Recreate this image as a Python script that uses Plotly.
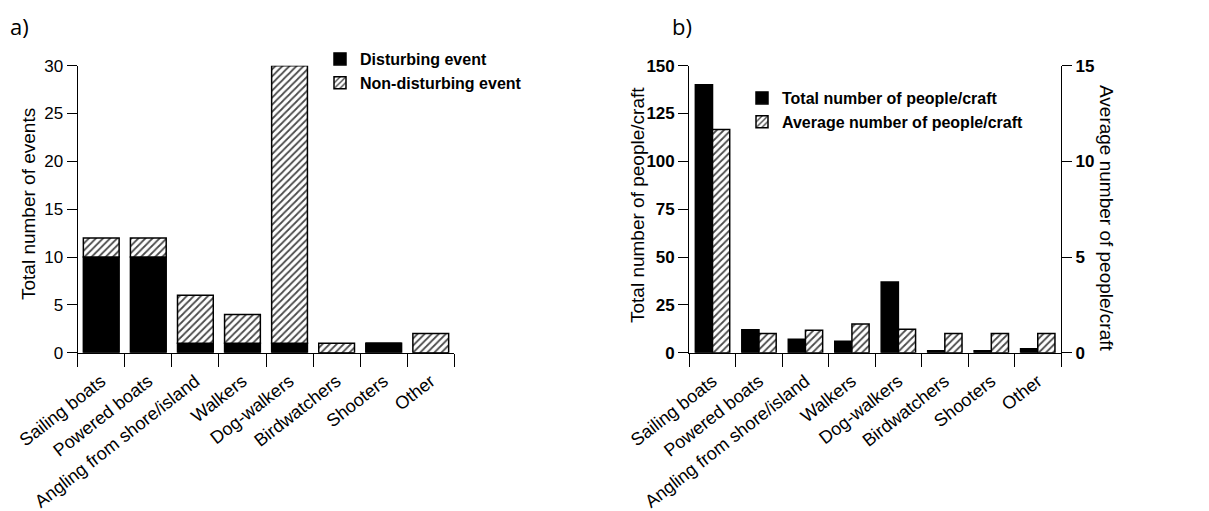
import plotly.graph_objects as go

# Activity categories shared by both panels
categories = ["Sailing boats", "Powered boats", "Angling from shore/island", "Walkers",
              "Dog-walkers", "Birdwatchers", "Shooters", "Other"]

# Panel a) events per activity
disturbing = [10, 10, 1, 1, 1, 0, 1, 0]
non_disturbing = [2, 2, 5, 3, 29, 1, 0, 2]

# Panel b) people/craft per activity
total_people = [140, 12, 7, 6, 37, 1, 1, 2]
avg_people = [11.67, 1.0, 1.17, 1.5, 1.23, 1.0, 1.0, 1.0]

W, H = 1209, 511
FONT = "Liberation Sans, Arial, sans-serif"


def px_x(p):
    return p / W


def px_y(p):
    return 1 - p / H


hatch = dict(shape="/", fgcolor="#4a4a4a", bgcolor="white", size=5, solidity=0.35)
edge = dict(color="black", width=1.5)

fig = go.Figure()

# a) stacked bars (hatched segment sits on top of the black one)
fig.add_bar(x=categories, y=disturbing, xaxis="x", yaxis="y", name="Disturbing event",
            marker=dict(color="black", line=edge), width=0.76, offset=-0.38,
            legend="legend")
fig.add_bar(x=categories, y=non_disturbing, base=disturbing, xaxis="x", yaxis="y",
            name="Non-disturbing event",
            marker=dict(color="white", pattern=hatch, line=edge), width=0.76, offset=-0.38,
            legend="legend")

# b) paired bars on two y scales
fig.add_bar(x=categories, y=total_people, xaxis="x2", yaxis="y2",
            name="Total number of people/craft",
            marker=dict(color="black", line=edge), width=0.37, offset=-0.37,
            legend="legend2")
fig.add_bar(x=categories, y=avg_people, xaxis="x2", yaxis="y3",
            name="Average number of people/craft",
            marker=dict(color="white", pattern=hatch, line=edge), width=0.37, offset=0.0,
            legend="legend2")

y_dom = [px_y(352.7), px_y(65.7)]
tick_plain = dict(family=FONT, size=17, color="black")
tick_bold = dict(family=FONT, size=17, color="black", weight="bold")
cat_font = dict(family=FONT, size=18, color="black")

xcommon = dict(type="category", range=[-0.5, 7.5], showline=True, linecolor="black",
               linewidth=1.3, ticks="outside", ticklen=13, tickwidth=1.3, tickcolor="black",
               tickson="boundaries", tickangle=-38, tickfont=cat_font, showgrid=False,
               zeroline=False, fixedrange=True, automargin=False, ticklabelstandoff=10)
ycommon = dict(showline=True, linecolor="black", linewidth=1.3, ticks="outside",
               ticklen=10, tickwidth=1.3, tickcolor="black", showgrid=False,
               zeroline=False, domain=y_dom, automargin=False)

legend_font = dict(family=FONT, size=16, color="black", weight="bold")

fig.update_layout(
    template="none",
    width=W, height=H,
    margin=dict(l=0, r=0, t=0, b=0),
    paper_bgcolor="white", plot_bgcolor="white",
    barmode="overlay",
    font=dict(family=FONT, color="black"),
    xaxis=dict(xcommon, domain=[px_x(77.7), px_x(454.3)], anchor="y"),
    yaxis=dict(ycommon, range=[0, 30], tickvals=[0, 5, 10, 15, 20, 25, 30],
               tickfont=tick_plain, anchor="x"),
    xaxis2=dict(xcommon, domain=[px_x(689.3), px_x(1061)], anchor="y2"),
    yaxis2=dict(ycommon, range=[0, 150], tickvals=[0, 25, 50, 75, 100, 125, 150],
                tickfont=tick_bold, anchor="x2"),
    yaxis3=dict(ycommon, range=[0, 15], tickvals=[0, 5, 10, 15], tickfont=tick_bold,
                overlaying="y2", side="right", anchor="x2"),
    legend=dict(x=px_x(320), y=px_y(42), xanchor="left", yanchor="top",
                font=legend_font, bgcolor="rgba(0,0,0,0)", tracegroupgap=0, itemwidth=30),
    legend2=dict(x=px_x(742), y=px_y(81), xanchor="left", yanchor="top",
                 font=legend_font, bgcolor="rgba(0,0,0,0)", tracegroupgap=0, itemwidth=30),
    showlegend=True,
)

# Axis titles and panel letters
title_font = dict(family=FONT, size=19, color="black")
fig.add_annotation(text="Total number of events", x=px_x(28), y=px_y(204),
                   xref="paper", yref="paper", textangle=-90, showarrow=False,
                   xanchor="center", yanchor="middle", font=title_font)
fig.add_annotation(text="Total number of people/craft", x=px_x(638), y=px_y(205),
                   xref="paper", yref="paper", textangle=-90, showarrow=False,
                   xanchor="center", yanchor="middle", font=title_font)
fig.add_annotation(text="Average number of people/craft", x=px_x(1107), y=px_y(218),
                   xref="paper", yref="paper", textangle=90, showarrow=False,
                   xanchor="center", yanchor="middle", font=title_font)
fig.add_annotation(text="a)", x=px_x(8), y=px_y(26), xref="paper", yref="paper",
                   xanchor="left", yanchor="middle", showarrow=False,
                   font=dict(family="Open Sans, sans-serif", size=22, color="black"))
fig.add_annotation(text="b)", x=px_x(670), y=px_y(26), xref="paper", yref="paper",
                   xanchor="left", yanchor="middle", showarrow=False,
                   font=dict(family="Open Sans, sans-serif", size=22, color="black"))

fig.write_html("out.html")
